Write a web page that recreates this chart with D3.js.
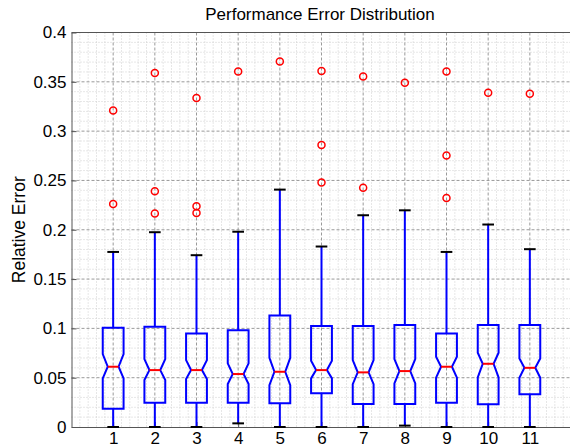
<!DOCTYPE html>
<html>
<head>
<meta charset="utf-8">
<script src="https://cdn.jsdelivr.net/npm/d3@7"></script>
<style>
  body { margin: 0; background: #fff; }
  text { font-family: "Liberation Sans", Arial, sans-serif; }
</style>
</head>
<body>
<svg width="570" height="448"></svg>
<script>
const categories = ['1', '2', '3', '4', '5', '6', '7', '8', '9', '10', '11'];
const whiskerLo = [0, 0, 0, 0.0037, 0, 0, 0, 0.0014, 0, 0, 0];
const q1 = [0.0186, 0.0246, 0.0246, 0.0246, 0.024, 0.0341, 0.0233, 0.0233, 0.0246, 0.023, 0.0331];
const notchLo = [0.0493, 0.0476, 0.0486, 0.0435, 0.0425, 0.0493, 0.0435, 0.0442, 0.05, 0.0503, 0.05];
const medians = [0.0611, 0.0577, 0.0577, 0.0537, 0.056, 0.0577, 0.0554, 0.0567, 0.0611, 0.0641, 0.06];
const notchHi = [0.0739, 0.0689, 0.0678, 0.0645, 0.0702, 0.0672, 0.0678, 0.0689, 0.0712, 0.0753, 0.0695];
const q3 = [0.1006, 0.1016, 0.0949, 0.0982, 0.1131, 0.1023, 0.1023, 0.1033, 0.0949, 0.1033, 0.1033];
const whiskerHi = [0.1775, 0.1975, 0.1742, 0.198, 0.2407, 0.183, 0.2147, 0.2197, 0.1775, 0.2053, 0.1803];
const outliers = [
  [0.226, 0.321],
  [0.2164, 0.239, 0.359],
  [0.217, 0.2238, 0.3335],
  [0.3605],
  [0.3706],
  [0.2478, 0.286, 0.361],
  [0.2427, 0.3554],
  [0.349],
  [0.2322, 0.2754, 0.3605],
  [0.339],
  [0.338]
];
const yTicks = [0, 0.05, 0.1, 0.15, 0.2, 0.25, 0.3, 0.35, 0.4];

const svg = d3.select('svg');
const mLeft = 71.5, mTop = 32.5, mBottom = 427, mRight = 571.5;

const x = d3.scaleLinear().domain([0, 12]).range([mLeft, mRight]);
const y = d3.scaleLinear().domain([0, 0.4]).range([mBottom, mTop]);

const grid = svg.append('g');
// minor grid
grid.selectAll('.mx').data(d3.range(0, 12.01, 0.2).filter(v => Math.abs(v - Math.round(v)) > 0.01))
  .enter().append('line')
  .attr('x1', d => x(d)).attr('x2', d => x(d)).attr('y1', mTop).attr('y2', mBottom)
  .attr('stroke', '#cfcfcf').attr('stroke-dasharray', '1,2').attr('stroke-width', 1);
grid.selectAll('.my').data(d3.range(0, 0.4001, 0.01).filter((v, i) => i % 5 !== 0))
  .enter().append('line')
  .attr('x1', mLeft).attr('x2', mRight).attr('y1', d => y(d)).attr('y2', d => y(d))
  .attr('stroke', '#cfcfcf').attr('stroke-dasharray', '1,2').attr('stroke-width', 1);
// major grid
grid.selectAll('.Mx').data(d3.range(1, 12))
  .enter().append('line')
  .attr('x1', d => x(d)).attr('x2', d => x(d)).attr('y1', mTop).attr('y2', mBottom)
  .attr('stroke', '#9a9a9a').attr('stroke-dasharray', '3,2').attr('stroke-width', 1);
grid.selectAll('.My').data(yTicks.slice(1, -1))
  .enter().append('line')
  .attr('x1', mLeft).attr('x2', mRight).attr('y1', d => y(d)).attr('y2', d => y(d))
  .attr('stroke', '#9a9a9a').attr('stroke-dasharray', '3,2').attr('stroke-width', 1);

// axes
const yAxis = d3.axisLeft(y).tickValues(yTicks).tickSizeInner(-5).tickSizeOuter(0).tickPadding(5)
  .tickFormat(d => d3.format('')(+d.toFixed(2)));
const gy = svg.append('g').attr('transform', `translate(${mLeft},0)`).call(yAxis);
const xAxis = d3.axisBottom(x).tickValues(d3.range(1, 12)).tickSizeInner(-5).tickSizeOuter(0).tickPadding(5)
  .tickFormat((d, i) => categories[i]);
const gx = svg.append('g').attr('transform', `translate(0,${mBottom})`).call(xAxis);
[gx, gy].forEach(g => {
  g.select('.domain').attr('stroke', '#555');
  g.selectAll('.tick line').attr('stroke', '#555');
  g.selectAll('.tick text').attr('font-size', 17).attr('fill', '#000')
    .attr('font-family', '"Liberation Sans", Arial, sans-serif');
});
gx.selectAll('.tick text').attr('dy', '0.68em');
svg.append('line').attr('x1', mLeft).attr('x2', mRight).attr('y1', mTop).attr('y2', mTop).attr('stroke', '#555');

// boxes
const hw = 0.25, nw = 0.13, cw = 0.14;
const boxes = svg.append('g');
categories.forEach((c, i) => {
  const cx = i + 1;
  const g = boxes.append('g');
  g.append('line').attr('x1', x(cx)).attr('x2', x(cx)).attr('y1', y(q3[i])).attr('y2', y(whiskerHi[i]))
    .attr('stroke', '#0000ff').attr('stroke-width', 2);
  g.append('line').attr('x1', x(cx)).attr('x2', x(cx)).attr('y1', y(q1[i])).attr('y2', y(whiskerLo[i]))
    .attr('stroke', '#0000ff').attr('stroke-width', 2);
  [whiskerHi[i], whiskerLo[i]].forEach(v => {
    g.append('line').attr('x1', x(cx - cw)).attr('x2', x(cx + cw)).attr('y1', y(v)).attr('y2', y(v))
      .attr('stroke', '#000').attr('stroke-width', 2);
  });
  const pts = [
    [cx - hw, q1[i]], [cx - hw, notchLo[i]], [cx - nw, medians[i]], [cx - hw, notchHi[i]], [cx - hw, q3[i]],
    [cx + hw, q3[i]], [cx + hw, notchHi[i]], [cx + nw, medians[i]], [cx + hw, notchLo[i]], [cx + hw, q1[i]]
  ];
  g.append('path').attr('d', d3.line().x(d => x(d[0])).y(d => y(d[1]))(pts) + 'Z')
    .attr('fill', 'none').attr('stroke', '#0000ff').attr('stroke-width', 2);
  g.append('line').attr('x1', x(cx - nw)).attr('x2', x(cx + nw)).attr('y1', y(medians[i])).attr('y2', y(medians[i]))
    .attr('stroke', '#ff0000').attr('stroke-width', 2);
  g.selectAll('circle').data(outliers[i]).enter().append('circle')
    .attr('cx', x(cx)).attr('cy', d => y(d)).attr('r', 3.5)
    .attr('fill', 'none').attr('stroke', '#ff0000').attr('stroke-width', 1.5);
});

svg.append('text').attr('x', 320).attr('y', 20).attr('text-anchor', 'middle')
  .attr('font-size', 17).text('Performance Error Distribution');
svg.append('text').attr('transform', `translate(25,${(mTop + mBottom) / 2}) rotate(-90)`)
  .attr('text-anchor', 'middle').attr('font-size', 17.5).text('Relative Error');
</script>
</body>
</html>
